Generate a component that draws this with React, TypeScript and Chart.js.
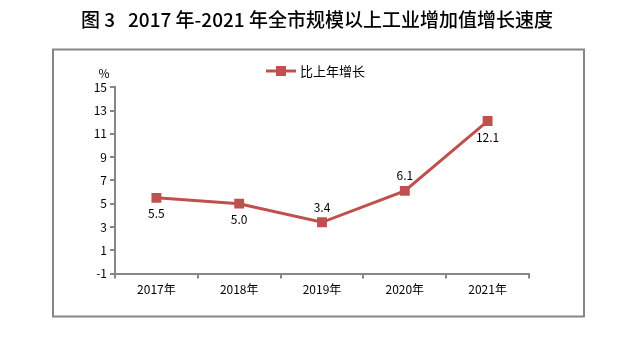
import React, { useEffect, useRef } from "react";
import { Chart, registerables } from "chart.js";

Chart.register(...registerables);

const titleText = "图 3   2017 年-2021 年全市规模以上工业增加值增长速度";
const seriesName = "比上年增长";
const categories = ["2017年", "2018年", "2019年", "2020年", "2021年"];
const values = [5.5, 5.0, 3.4, 6.1, 12.1];
const labelAbove = [false, false, true, true, false];
const yMin = -1;
const yMax = 15;
const yStep = 2;

const RED = "#C0504D";
const GRAY = "#868686";
const FONT = "'Noto Sans CJK SC', 'DejaVu Sans', sans-serif";

const decorPlugin = {
  id: "decor",
  beforeDraw(chart: any) {
    const ctx = chart.ctx;
    ctx.save();
    // title
    ctx.fillStyle = "#000";
    ctx.font = `500 19px ${FONT}`;
    ctx.textAlign = "center";
    ctx.textBaseline = "middle";
    ctx.fillText(titleText, 317, 20);
    // frame
    ctx.strokeStyle = GRAY;
    ctx.lineWidth = 2;
    ctx.strokeRect(53, 49.5, 531, 267);
    // percent
    ctx.font = `12px ${FONT}`;
    ctx.fillStyle = "#000";
    ctx.fillText("%", 104, 73);
    // legend
    const ly = 71;
    ctx.strokeStyle = RED;
    ctx.lineWidth = 3;
    ctx.beginPath();
    ctx.moveTo(266, ly);
    ctx.lineTo(296, ly);
    ctx.stroke();
    ctx.fillStyle = RED;
    ctx.fillRect(276, ly - 5, 10, 10);
    ctx.fillStyle = "#000";
    ctx.font = `13px ${FONT}`;
    ctx.textAlign = "left";
    ctx.fillText(seriesName, 300, ly);
    ctx.restore();
  },
  afterDatasetsDraw(chart: any) {
    const ctx = chart.ctx;
    const meta = chart.getDatasetMeta(0);
    ctx.save();
    ctx.fillStyle = "#000";
    ctx.font = `12px ${FONT}`;
    ctx.textAlign = "center";
    ctx.textBaseline = "middle";
    meta.data.forEach((pt: any, i: number) => {
      const v = values[i].toFixed(1);
      const dy = labelAbove[i] ? -15 : 16;
      ctx.fillText(v, pt.x, pt.y + dy);
    });
    ctx.restore();
  },
};

export default function App() {
  const ref = useRef<HTMLCanvasElement | null>(null);
  useEffect(() => {
    if (!ref.current) return;
    const chart = new Chart(ref.current, {
      type: "line",
      data: {
        labels: categories,
        datasets: [
          {
            label: seriesName,
            data: values,
            borderColor: RED,
            backgroundColor: RED,
            borderWidth: 3,
            pointStyle: "rect",
            pointRadius: 7,
            pointBorderWidth: 0,
            tension: 0,
          },
        ],
      },
      options: {
        animation: false,
        responsive: false,
        layout: { padding: { left: 0, top: 87.3, right: 98, bottom: 0 } },
        plugins: {
          legend: { display: false },
          title: { display: false },
          tooltip: { enabled: false },
        },
        scales: {
          x: {
            offset: true,
            grid: {
              offset: true,
              drawOnChartArea: false,
              drawTicks: true,
              tickLength: 5,
              color: GRAY,
              lineWidth: 2,
            },
            border: { color: GRAY, width: 2 },
            ticks: {
              color: "#000",
              font: { family: FONT, size: 12 },
              padding: 4,
              maxRotation: 0,
            },
            afterFit(scale: any) {
              scale.height = 343 - 273.5;
            },
          },
          y: {
            min: yMin,
            max: yMax,
            grid: {
              drawOnChartArea: false,
              drawTicks: true,
              tickLength: 5,
              color: GRAY,
              lineWidth: 2,
            },
            border: { color: GRAY, width: 2 },
            ticks: {
              stepSize: yStep,
              color: "#000",
              font: { family: FONT, size: 12 },
              padding: 3,
            },
            afterFit(scale: any) {
              scale.width = 115;
            },
          },
        },
      },
      plugins: [decorPlugin],
    });
    return () => chart.destroy();
  }, []);
  return (
    <div style={{ position: "absolute", left: 0, top: 0, width: 627, height: 343, background: "#fff" }}>
      <canvas ref={ref} width={627} height={343} style={{ width: 627, height: 343 }} />
    </div>
  );
}
